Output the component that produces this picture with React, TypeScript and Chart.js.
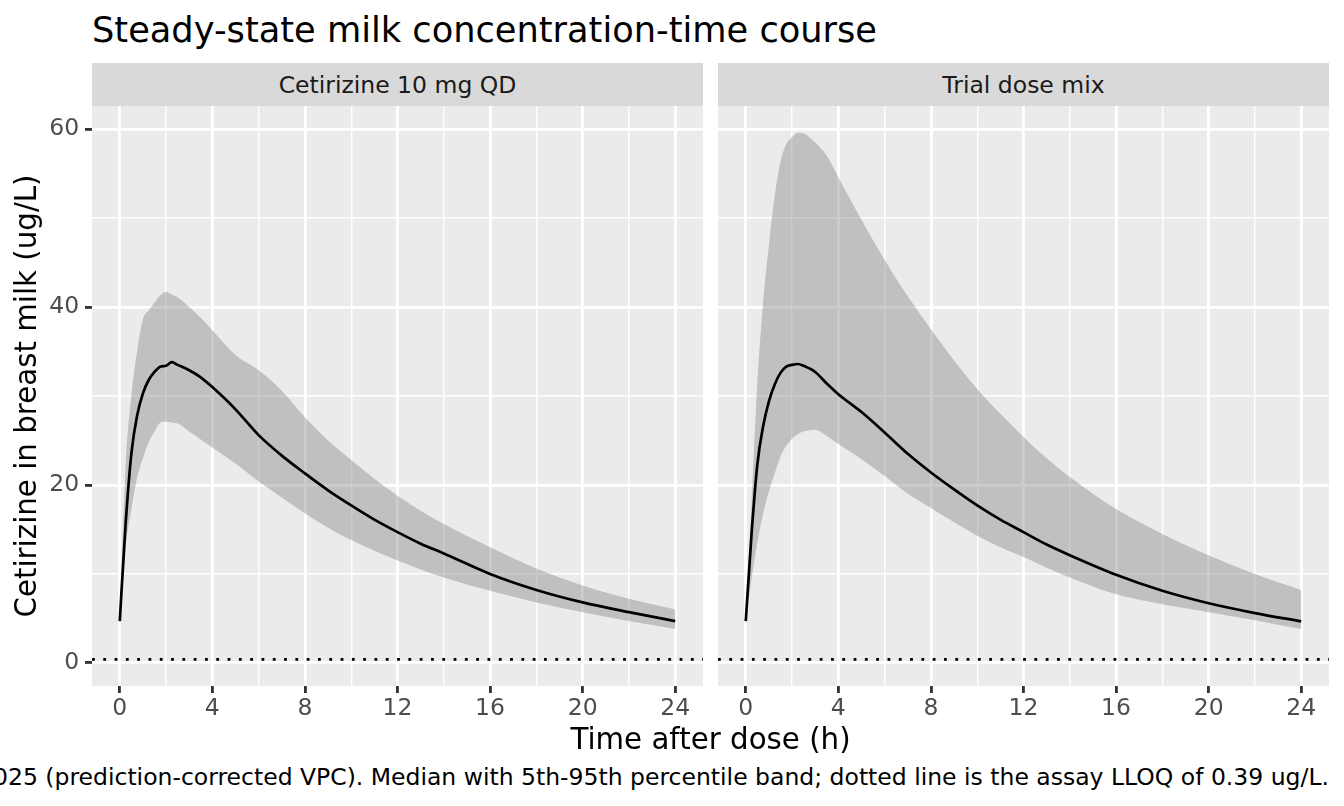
import { useEffect, useRef } from "react";
import { Chart, registerables } from "chart.js";

Chart.register(...registerables);

// time after dose (h), shared by both facets
const timeH = [0, 0.25, 0.5, 0.75, 1, 1.25, 1.5, 1.75, 2, 2.25, 2.5, 3, 3.5, 4, 5, 6, 7, 8, 9, 10, 11, 12, 13, 14, 16, 18, 20, 22, 24];

// Cetirizine 10 mg QD
const cetMedian = [4.7, 15.5, 23.5, 27.8, 30.3, 31.8, 32.7, 33.3, 33.4, 33.8, 33.5, 32.9, 32.1, 31.0, 28.5, 25.6, 23.3, 21.3, 19.4, 17.7, 16.1, 14.7, 13.4, 12.3, 10.0, 8.2, 6.8, 5.7, 4.7];
const cetP95 = [5.0, 22, 30, 35, 38.6, 39.6, 40.5, 41.3, 41.7, 41.4, 41.1, 40.0, 38.8, 37.4, 34.6, 32.9, 30.6, 27.6, 25.0, 22.8, 20.7, 18.8, 17.1, 15.6, 13.0, 10.6, 8.7, 7.2, 6.0];
const cetP5 = [4.5, 13.0, 17.2, 20.8, 23.0, 24.8, 26.0, 27.0, 27.1, 27.0, 26.9, 26.0, 25.1, 24.2, 22.4, 20.4, 18.6, 16.8, 15.2, 13.8, 12.6, 11.5, 10.5, 9.6, 8.1, 6.8, 5.7, 4.7, 3.8];

// Trial dose mix
const mixMedian = [4.7, 14.5, 22.3, 26.6, 29.4, 31.3, 32.6, 33.3, 33.5, 33.6, 33.4, 32.7, 31.4, 30.2, 28.2, 25.9, 23.5, 21.4, 19.5, 17.7, 16.1, 14.7, 13.3, 12.1, 9.9, 8.1, 6.7, 5.6, 4.66];
const mixP95 = [5.0, 18, 31.5, 40.5, 47, 52.5, 56.3, 58.3, 59.1, 59.6, 59.5, 58.5, 57.0, 54.6, 49.8, 45.3, 41.2, 37.5, 34.0, 30.8, 28.0, 25.4, 23.0, 20.9, 17.3, 14.5, 12.1, 10.0, 8.2];
const mixP5 = [4.5, 9.5, 13.5, 16.8, 19.3, 21.3, 23.2, 24.4, 25.2, 25.7, 26.0, 26.2, 25.5, 24.6, 22.9, 21.0, 19.0, 17.4, 15.8, 14.3, 13.0, 11.9, 10.7, 9.6, 7.7, 6.6, 5.7, 4.8, 3.8];

const lloq = 0.39;

const xMajor = [0, 4, 8, 12, 16, 20, 24];
const xMinor = [2, 6, 10, 14, 18, 22];
const yMajor = [0, 20, 40, 60];
const yMinor = [10, 30, 50];
const xRange = [-1.2, 25.2];
const yRange = [-2.6, 62.6];

const plotTitle = "Steady-state milk concentration-time course";
const panelTitles = ["Cetirizine 10 mg QD", "Trial dose mix"];
const xTitle = "Time after dose (h)";
const yTitle = "Cetirizine in breast milk (ug/L)";
const caption = "025 (prediction-corrected VPC). Median with 5th-95th percentile band; dotted line is the assay LLOQ of 0.39 ug/L.";

const FONT = "'DejaVu Sans', sans-serif";
const PANEL_H = 580;
const CANVAS_H = 620;

const panelBg = {
  id: "panelBg",
  beforeDraw(chart: any) {
    const { ctx, chartArea: a } = chart;
    ctx.save();
    ctx.fillStyle = "#EBEBEB";
    ctx.fillRect(a.left, a.top, a.right - a.left, a.bottom - a.top);
    ctx.restore();
  },
};

type PanelProps = {
  median: number[];
  low: number[];
  high: number[];
  showY: boolean;
  left: number;
  width: number;
};

const Panel = ({ median, low, high, showY, left, width }: PanelProps) => {
  const chartRef = useRef<HTMLCanvasElement>(null);

  useEffect(() => {
    if (!chartRef.current) return;
    const pts = (arr: number[]) => timeH.map((t, i) => ({ x: t, y: arr[i] }));
    const allX = [...xMajor, ...xMinor].sort((a, b) => a - b);
    const allY = [...yMajor, ...yMinor].sort((a, b) => a - b);

    const chart = new Chart(chartRef.current, {
      type: "line",
      data: {
        datasets: [
          {
            label: "Median",
            data: pts(median),
            borderColor: "#000000",
            borderWidth: 2.7,
            pointRadius: 0,
            cubicInterpolationMode: "monotone",
            fill: false,
          },
          {
            label: "LLOQ",
            data: [
              { x: xRange[0], y: lloq },
              { x: xRange[1], y: lloq },
            ],
            borderColor: "#000000",
            borderWidth: 2.8,
            borderDash: [2.8, 8.5],
            pointRadius: 0,
            fill: false,
          },
          {
            label: "95th",
            data: pts(high),
            borderColor: "rgba(0,0,0,0)",
            borderWidth: 0,
            backgroundColor: "rgba(127,127,127,0.4)",
            pointRadius: 0,
            cubicInterpolationMode: "monotone",
            fill: "+1",
          },
          {
            label: "5th",
            data: pts(low),
            borderColor: "rgba(0,0,0,0)",
            borderWidth: 0,
            pointRadius: 0,
            cubicInterpolationMode: "monotone",
            fill: false,
          },
        ],
      },
      options: {
        animation: false,
        responsive: true,
        maintainAspectRatio: false,
        events: [],
        layout: { padding: 0 },
        plugins: { legend: { display: false }, tooltip: { enabled: false } },
        scales: {
          x: {
            type: "linear",
            min: xRange[0],
            max: xRange[1],
            afterBuildTicks: (s: any) => {
              s.ticks = allX.map((v) => ({ value: v }));
            },
            afterFit: (s: any) => {
              s.height = CANVAS_H - PANEL_H;
              s.paddingLeft = 0;
              s.paddingRight = 0;
            },
            border: { display: false },
            grid: {
              color: "#FFFFFF",
              lineWidth: (c: any) => (xMajor.includes(c.tick?.value) ? 2.84 : 1.42),
              tickLength: 7,
              tickWidth: 2.84,
              tickColor: (c: any) => (xMajor.includes(c.tick?.value) ? "#333333" : "rgba(0,0,0,0)"),
            },
            ticks: {
              autoSkip: false,
              maxRotation: 0,
              padding: 2,
              color: "#4D4D4D",
              font: { family: FONT, size: 23.5 },
              callback: (v: any) => (xMajor.includes(Number(v)) ? String(v) : ""),
            },
          },
          y: {
            type: "linear",
            min: yRange[0],
            max: yRange[1],
            afterBuildTicks: (s: any) => {
              s.ticks = allY.map((v) => ({ value: v }));
            },
            afterFit: (s: any) => {
              s.width = showY ? 92 : 0;
              s.paddingTop = 0;
              s.paddingBottom = 0;
            },
            border: { display: false },
            grid: {
              color: "#FFFFFF",
              lineWidth: (c: any) => (yMajor.includes(c.tick?.value) ? 2.84 : 1.42),
              drawTicks: showY,
              tickLength: 7,
              tickWidth: 2.84,
              tickColor: (c: any) => (yMajor.includes(c.tick?.value) ? "#333333" : "rgba(0,0,0,0)"),
            },
            ticks: {
              display: showY,
              padding: 5.9,
              color: "#4D4D4D",
              font: { family: FONT, size: 23.5 },
              callback: (v: any) => (yMajor.includes(Number(v)) ? String(v) : ""),
            },
            title: {
              display: showY,
              text: yTitle,
              color: "#000000",
              font: { family: FONT, size: 29.3 },
              padding: { top: 11, bottom: 0 },
            },
          },
        },
      },
      plugins: [panelBg],
    });

    return () => {
      chart.destroy();
    };
  }, [median, low, high, showY]);

  return (
    <div style={{ position: "absolute", left, top: 106, width, height: CANVAS_H }}>
      <canvas ref={chartRef} />
    </div>
  );
};

const panels = [
  { title: panelTitles[0], median: cetMedian, low: cetP5, high: cetP95, showY: true, left: 0, width: 703, stripLeft: 92 },
  { title: panelTitles[1], median: mixMedian, low: mixP5, high: mixP95, showY: false, left: 718, width: 611, stripLeft: 718 },
];

export default function App() {
  return (
    <div
      style={{
        position: "absolute",
        left: 0,
        top: 0,
        width: 1344,
        height: 806,
        background: "#FFFFFF",
        overflow: "hidden",
        fontFamily: FONT,
      }}
    >
      <div style={{ position: "absolute", left: 92, top: 12, fontSize: 35.2, lineHeight: "35.2px", color: "#000", whiteSpace: "nowrap" }}>
        {plotTitle}
      </div>
      {panels.map((p) => (
        <div key={p.title}>
          <div
            style={{
              position: "absolute",
              left: p.stripLeft,
              top: 63,
              width: 611,
              height: 43,
              background: "#D9D9D9",
              color: "#1A1A1A",
              fontSize: 23.5,
              display: "flex",
              alignItems: "center",
              justifyContent: "center",
              whiteSpace: "nowrap",
            }}
          >
            {p.title}
          </div>
          <Panel median={p.median} low={p.low} high={p.high} showY={p.showY} left={p.left} width={p.width} />
        </div>
      ))}
      <div
        style={{
          position: "absolute",
          left: 92,
          width: 1237,
          top: 725,
          fontSize: 29.3,
          lineHeight: "29.3px",
          textAlign: "center",
          color: "#000",
          whiteSpace: "nowrap",
        }}
      >
        {xTitle}
      </div>
      <div
        style={{
          position: "absolute",
          right: 15,
          top: 766,
          fontSize: 23.5,
          lineHeight: "23.5px",
          color: "#000",
          whiteSpace: "nowrap",
        }}
      >
        {caption}
      </div>
    </div>
  );
}
